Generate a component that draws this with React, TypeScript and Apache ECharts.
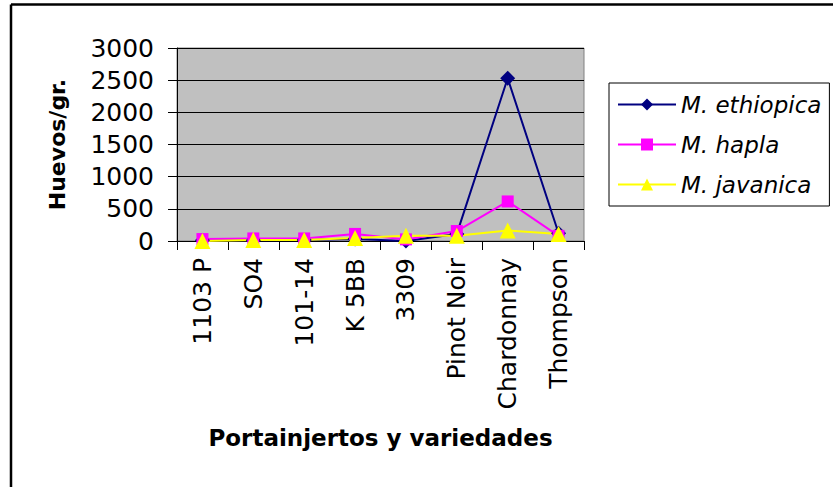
import React, { useEffect, useRef } from "react";
import * as echarts from "echarts";

const categories = ["1103 P", "SO4", "101-14", "K 5BB", "3309", "Pinot Noir", "Chardonnay", "Thompson"];
const ethiopica = [10, 10, 15, 30, 0, 110, 2530, 120];
const hapla = [30, 40, 40, 110, 25, 155, 615, 80];
const javanica = [0, 15, 15, 45, 80, 80, 165, 110];
const seriesNames = ["M. ethiopica", "M. hapla", "M. javanica"];
const yTicks = { min: 0, max: 3000, interval: 500 };

export default function App() {
  const ref = useRef<HTMLDivElement>(null);
  useEffect(() => {
    if (!ref.current) return;
    const chart = echarts.init(ref.current, null, { renderer: "svg" });
    const font = "DejaVu Sans";
    chart.setOption({
      animation: false,
      backgroundColor: "#ffffff",
      grid: {
        left: 177,
        top: 48,
        right: 249,
        bottom: 246,
        show: true,
        backgroundColor: "#c0c0c0",
        borderColor: "#808080",
        borderWidth: 1,
      },
      legend: {
        orient: "vertical",
        left: 609,
        top: 83,
        padding: [8, 8, 8, 8],
        itemGap: 13,
        itemWidth: 58,
        itemHeight: 15,
        borderColor: "#000000",
        borderWidth: 1,
        backgroundColor: "#ffffff",
        textStyle: {
          fontFamily: font,
          fontStyle: "italic",
          fontSize: 23,
          lineHeight: 27,
          color: "#000000",
        },
        data: seriesNames,
      },
      xAxis: {
        type: "category",
        data: categories,
        boundaryGap: true,
        axisLine: { lineStyle: { color: "#000000", width: 1 } },
        axisTick: { show: true, length: 9, lineStyle: { color: "#000000" } },
        axisLabel: {
          rotate: 90,
          margin: 17,
          fontFamily: font,
          fontSize: 25,
          color: "#000000",
          interval: 0,
        },
        name: "Portainjertos y variedades",
        nameLocation: "middle",
        nameGap: 185,
        nameTextStyle: {
          fontFamily: font,
          fontWeight: "bold",
          fontSize: 23,
          color: "#000000",
        },
      },
      yAxis: {
        type: "value",
        min: yTicks.min,
        max: yTicks.max,
        interval: yTicks.interval,
        axisLine: { show: true, lineStyle: { color: "#000000", width: 1 } },
        axisTick: { show: true, length: 9, lineStyle: { color: "#000000" } },
        splitLine: { show: true, lineStyle: { color: "#000000", width: 1 } },
        axisLabel: {
          margin: 23,
          fontFamily: font,
          fontSize: 25,
          color: "#000000",
          formatter: (v: number) => String(v),
        },
        name: "Huevos/gr.",
        nameLocation: "middle",
        nameGap: 109,
        nameTextStyle: {
          fontFamily: font,
          fontWeight: "bold",
          fontSize: 22,
          color: "#000000",
        },
      },
      series: [
        {
          name: seriesNames[0],
          type: "line",
          data: ethiopica,
          symbol: "diamond",
          symbolSize: 15,
          lineStyle: { color: "#000080", width: 2 },
          itemStyle: { color: "#000080" },
        },
        {
          name: seriesNames[1],
          type: "line",
          data: hapla,
          symbol: "rect",
          symbolSize: 12,
          lineStyle: { color: "#ff00ff", width: 2 },
          itemStyle: { color: "#ff00ff" },
        },
        {
          name: seriesNames[2],
          type: "line",
          data: javanica,
          symbol: "triangle",
          symbolSize: 16,
          lineStyle: { color: "#ffff00", width: 2 },
          itemStyle: { color: "#ffff00" },
        },
      ],
      graphic: [
        {
          type: "line",
          shape: { x1: 11, y1: 4.5, x2: 833, y2: 4.5 },
          style: { stroke: "#000000", lineWidth: 2.5 },
        },
        {
          type: "line",
          shape: { x1: 11, y1: 4.5, x2: 11, y2: 487 },
          style: { stroke: "#000000", lineWidth: 2.5 },
        },
      ],
    });
    return () => chart.dispose();
  }, []);
  return (
    <div
      ref={ref}
      style={{ position: "fixed", left: 0, top: 0, width: 833, height: 487, background: "#fff" }}
    />
  );
}
